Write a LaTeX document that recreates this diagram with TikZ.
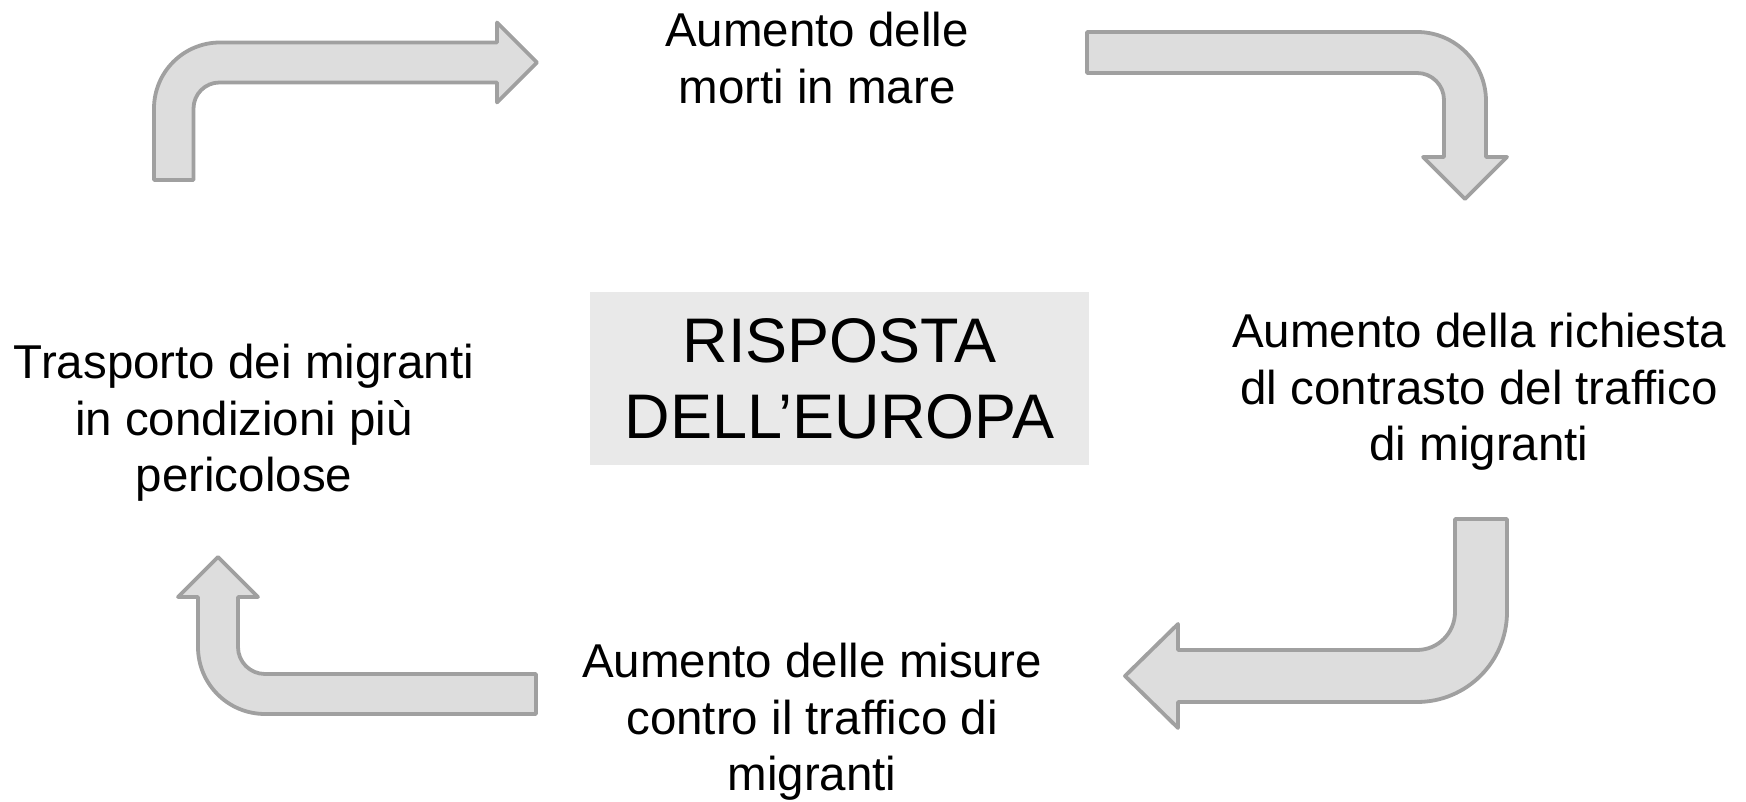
\documentclass[tikz,border=0pt]{standalone}
\usepackage{fontspec}
\setmainfont{Liberation Sans}

\definecolor{arrowfill}{HTML}{DDDDDD}
\definecolor{arrowline}{HTML}{A0A0A0}
\definecolor{boxfill}{HTML}{E9E9E9}

\begin{document}
\begin{tikzpicture}[
            x = 0.5pt, y = 0.5pt, % one unit = one pixel of the slide
            every node/.style = {align = center, font = \fontsize{23.75pt}{28.25pt}\selectfont},
            line join = round
        ]

        \tikzstyle{bent arrow}=[
            draw = arrowline,
            fill = arrowfill,
            line width = 1.9pt
        ]

        \useasboundingbox (0,0) rectangle (1746,802);

	% central box
	\node[fill = boxfill, minimum width = 249.5pt, minimum height = 86.5pt,
	      font = \fontsize{31.5pt}{38pt}\selectfont] (risposta) at (839.5,423.5) {RISPOSTA\\DELL’EUROPA};

	% the four steps
	\node (morti) at (817,744) {Aumento delle\\morti in mare};
	\node (richiesta) at (1479,410) {Aumento della richiesta\\dl contrasto del traffico\\di migranti};
	\node (misure) at (812,80) {Aumento delle misure\\contro il traffico di\\migranti};
	\node (trasporto) at (244,379) {Trasporto dei migranti\\in condizioni più\\pericolose};

	% bent arrows
	\draw[bent arrow] (154,622) -- (154,693.5) arc[start angle=180, end angle=90, radius=66]
	    -- (497,759.5) -- (497,779.5) -- (537,739.5) -- (497,699.5) -- (497,719.5)
	    -- (219.5,719.5) arc[start angle=90, end angle=180, radius=26] -- (193.5,622) -- cycle;
	\draw[bent arrow] (1087,770) -- (1417,770) arc[start angle=90, end angle=0, radius=69]
	    -- (1486,645) -- (1507,645) -- (1465,603) -- (1423,645) -- (1444,645)
	    -- (1444,702) arc[start angle=0, end angle=90, radius=27] -- (1087,729) -- cycle;
	\draw[bent arrow] (1455,283) -- (1507,283) -- (1507,190) arc[start angle=0, end angle=-90, radius=90]
	    -- (1178,100) -- (1178,74) -- (1125,126) -- (1178,178) -- (1178,152)
	    -- (1417,152) arc[start angle=-90, end angle=0, radius=38] -- cycle;
	\draw[bent arrow] (536,128) -- (265,128) arc[start angle=-90, end angle=-180, radius=27]
	    -- (238,205) -- (258,205) -- (218,245) -- (178,205) -- (198,205)
	    -- (198,155) arc[start angle=180, end angle=270, radius=67] -- (536,88) -- cycle;

    \end{tikzpicture}
\end{document}
